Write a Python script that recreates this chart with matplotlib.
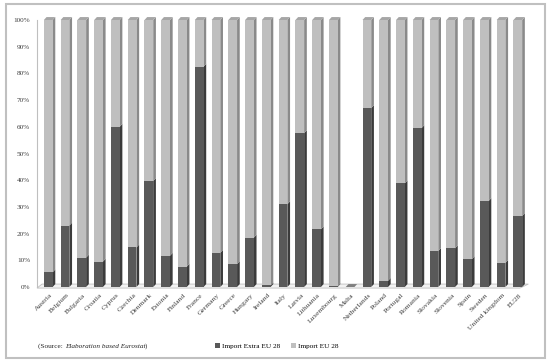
import matplotlib
matplotlib.use("Agg")
import matplotlib.pyplot as plt
from matplotlib.patches import Patch, Rectangle, Polygon
import numpy as np

countries = ["Austria", "Belgium", "Bulgaria", "Croatia", "Cyprus", "Czechia", "Denmark",
             "Estonia", "Finland", "France", "Germany", "Greece", "Hungary", "Ireland",
             "Italy", "Latvia", "Lithuania", "Luxembourg", "Malta", "Netherlands", "Poland",
             "Portugal", "Romania", "Slovakia", "Slovenia", "Spain", "Sweden",
             "United kingdom", "EU28"]
import_extra_eu = [5.5, 23, 11, 9.5, 60, 14.8, 39.7, 11.7, 7.6, 82.5, 12.8, 8.6, 18.5, 0.6,
                   31, 57.6, 21.6, 0.3, 0, 67, 2.3, 38.8, 59.5, 13.5, 14.5, 10.4, 32.2,
                   9, 26.6]
import_eu = [100 - v for v in import_extra_eu]
import_eu[18] = 0  # Malta: no data
yticks = list(range(0, 101, 10))
ytick_labels = [f"{t}%" for t in yticks]

plt.rcParams['font.family'] = ['Liberation Serif', 'DejaVu Serif']

W, H = 550, 364
fig = plt.figure(figsize=(W / 100, H / 100), dpi=100)
ax = fig.add_axes([37 / W, 1 - 287 / H, (530 - 37) / W, (287 - 20) / H])

n = len(countries)
x = np.arange(n)
front_w = 0.52
side_w = 0.16
dy = 1.1  # depth rise (in % units)

dark_front, dark_side = "#595959", "#3b3b3b"
light_front, light_side = "#bfbfbf", "#8a8a8a"
top_col = "#a6a6a6"

# floor
x0, x1 = -0.75, n - 0.45
floor = Polygon([(x0, -0.4), (x1 - 0.5, -0.4), (x1, dy), (x0 + 0.3, dy)], closed=True,
                facecolor="#f2f2f2", edgecolor="#bfbfbf", lw=0.6, clip_on=False, zorder=1)
ax.add_patch(floor)

left = x - front_w / 2 - 0.08
for i in range(n):
    e = import_extra_eu[i]
    u = import_eu[i]
    lx = left[i]
    rx = lx + front_w
    segs = [(0, e, dark_front, dark_side), (e, e + u, light_front, light_side)]
    for (b, t, fc, sc) in segs:
        if t - b <= 0:
            continue
        ax.add_patch(Polygon([(rx, b), (rx + side_w, b + dy), (rx + side_w, t + dy), (rx, t)],
                             closed=True, facecolor=sc, edgecolor='none', zorder=2, clip_on=False))
    if e > 0:
        ax.bar(lx, e, width=front_w, bottom=0, align='edge', color=dark_front, zorder=3)
    if u > 0:
        ax.bar(lx, u, width=front_w, bottom=e, align='edge', color=light_front, zorder=3)
    top = e + u
    if top > 0:
        tc = top_col if u > 0 else "#4a4a4a"
        ax.add_patch(Polygon([(lx, top), (rx, top), (rx + side_w, top + dy), (lx + side_w, top + dy)],
                             closed=True, facecolor=tc, edgecolor='none', zorder=3, clip_on=False))
    elif countries[i] == "Malta":
        ax.add_patch(Polygon([(lx, 0), (rx, 0), (rx + side_w, dy), (lx + side_w, dy)],
                             closed=True, facecolor="#7f7f7f", edgecolor='none', zorder=3, clip_on=False))

ax.set_xlim(-0.75, -0.75 + 493 / 16.77)
ax.set_ylim(0, 100)
for s in ["top", "right", "bottom"]:
    ax.spines[s].set_visible(False)
ax.spines["left"].set_color("#bfbfbf")
ax.spines["left"].set_linewidth(0.8)
ax.set_yticks(yticks)
ax.set_yticklabels(ytick_labels, fontsize=5.2)
ax.tick_params(axis='y', length=0, pad=5, colors="#404040")
ax.set_xticks(x)
ax.set_xticklabels(countries, fontsize=5.4, rotation=45, ha='right', rotation_mode='anchor')
ax.tick_params(axis='x', length=0, pad=4, colors="#404040")

# outer frame
fig.patches.append(Rectangle((6 / W, 1 - 358 / H), (545 - 6) / W, (358 - 4) / H,
                             transform=fig.transFigure, fill=False, edgecolor="#c0c0c0", lw=1.5))

handles = [Patch(facecolor=dark_front, label="Import Extra EU 28"),
           Patch(facecolor=light_front, label="Import EU 28")]
fig.legend(handles=handles, loc='center', bbox_to_anchor=(0.503, 1 - 346 / H), ncol=2,
           frameon=False, fontsize=5.2, handlelength=0.7, handleheight=0.7, handletextpad=0.3,
           columnspacing=1.5)

t1 = fig.text(38 / W, 1 - 346 / H, "(Source: ", fontsize=5.2, va='center', color="#262626")
a2 = ax.annotate("Elaboration based Eurostat", xy=(1, 0), xycoords=t1, va='bottom',
                 fontsize=5.2, style='italic', color="#262626", annotation_clip=False)
ax.annotate(")", xy=(1, 0), xycoords=a2, va='bottom', fontsize=5.2, color="#262626",
            annotation_clip=False)

fig.savefig("out.png", dpi=100)
